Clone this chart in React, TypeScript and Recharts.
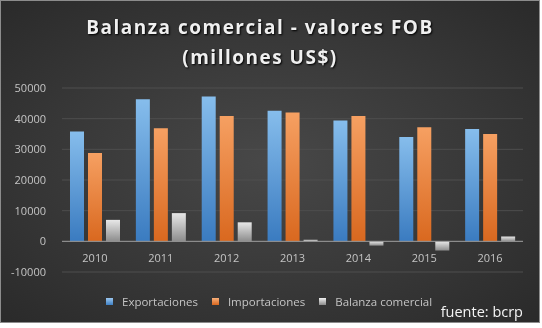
import { BarChart, Bar, XAxis, YAxis, CartesianGrid, ReferenceLine } from 'recharts'

const years = ['2010', '2011', '2012', '2013', '2014', '2015', '2016']
const exportaciones = [35800, 46300, 47200, 42600, 39400, 34000, 36600]
const importaciones = [28800, 36900, 40900, 42000, 40900, 37200, 35000]
const balanza = [7000, 9200, 6200, 500, -1400, -3000, 1600]
const yTicks = [-10000, 0, 10000, 20000, 30000, 40000, 50000]

const seriesNames = ['Exportaciones', 'Importaciones', 'Balanza comercial']

const data = years.map((y, i) => ({
  year: y,
  exp: exportaciones[i],
  imp: importaciones[i],
  bal: balanza[i],
}))

const font = '"Open Sans", "Noto Sans", sans-serif'

const legendColors = [
  'linear-gradient(#9cc8f0, #3d7fc4)',
  'linear-gradient(#f8b07a, #d8661e)',
  'linear-gradient(#f0f0f0, #8a8a8a)',
]

const XTick = (props: any) => {
  const { x, y, payload } = props
  return (
    <text x={x} y={y - 18} textAnchor="middle" fill="#c4c4c4" fontSize={11} fontFamily={font}>
      {payload.value}
    </text>
  )
}

export default function App() {
  return (
    <div
      style={{
        position: 'fixed',
        left: 0,
        top: 0,
        width: 538,
        height: 321,
        border: '1px solid #8c8c8c',
        background: 'radial-gradient(ellipse at 50% 50%, #484848 0%, #383838 55%, #2a2a2a 100%)',
        fontFamily: font,
      }}
    >
      <div
        style={{
          position: 'absolute',
          left: -10,
          top: 11,
          width: 538,
          textAlign: 'center',
          color: '#f0f0f0',
          fontWeight: 700,
          fontSize: 19,
          letterSpacing: 1.5,
          lineHeight: '30px',
          textShadow: '1px 1px 2px #000',
        }}
      >
        Balanza comercial - valores FOB
        <br />
        (millones US$)
      </div>
      <div style={{ position: 'absolute', top: -1, left: -1 }}>
        <BarChart
          width={540}
          height={323}
          data={data}
          margin={{ top: 88, right: 17, bottom: 0, left: 8 }}
          barSize={14}
          barGap={4}
        >
          <defs>
            <linearGradient id="gBlue" x1="0" y1="0" x2="0" y2="1">
              <stop offset="0%" stopColor="#86bdec" />
              <stop offset="100%" stopColor="#3a7bc0" />
            </linearGradient>
            <linearGradient id="gOrange" x1="0" y1="0" x2="0" y2="1">
              <stop offset="0%" stopColor="#f6a062" />
              <stop offset="100%" stopColor="#d9681f" />
            </linearGradient>
            <linearGradient id="gGray" x1="0" y1="0" x2="0" y2="1">
              <stop offset="0%" stopColor="#e8e8e8" />
              <stop offset="100%" stopColor="#8c8c8c" />
            </linearGradient>
          </defs>
          <CartesianGrid vertical={false} stroke="#4e4e4e" />
          <XAxis
            dataKey="year"
            axisLine={false}
            tickLine={false}
            tick={<XTick />}
            height={51}
          />
          <YAxis
            domain={[-10000, 50000]}
            ticks={yTicks}
            axisLine={false}
            tickLine={false}
            width={54}
            tick={{ fill: '#c4c4c4', fontSize: 11, fontFamily: font }}
            tickMargin={10}
          />
          <ReferenceLine y={0} stroke="#9a9a9a" />
          <Bar dataKey="exp" name={seriesNames[0]} fill="url(#gBlue)" isAnimationActive={false} />
          <Bar dataKey="imp" name={seriesNames[1]} fill="url(#gOrange)" isAnimationActive={false} />
          <Bar dataKey="bal" name={seriesNames[2]} fill="url(#gGray)" isAnimationActive={false} />
        </BarChart>
      </div>
      <div
        style={{
          position: 'absolute',
          top: 293,
          left: 105,
          display: 'flex',
          alignItems: 'center',
          fontSize: 11.5,
          color: '#c4c4c4',
        }}
      >
        {seriesNames.map((n, i) => (
          <div key={n} style={{ display: 'flex', alignItems: 'center', marginRight: 14 }}>
            <span
              style={{
                display: 'inline-block',
                width: 7,
                height: 7,
                background: legendColors[i],
                marginRight: 9,
              }}
            />
            {n}
          </div>
        ))}
      </div>
      <div
        style={{
          position: 'absolute',
          right: 16,
          top: 301,
          fontSize: 14.5,
          color: '#f4f4f4',
        }}
      >
        fuente: bcrp
      </div>
    </div>
  )
}
